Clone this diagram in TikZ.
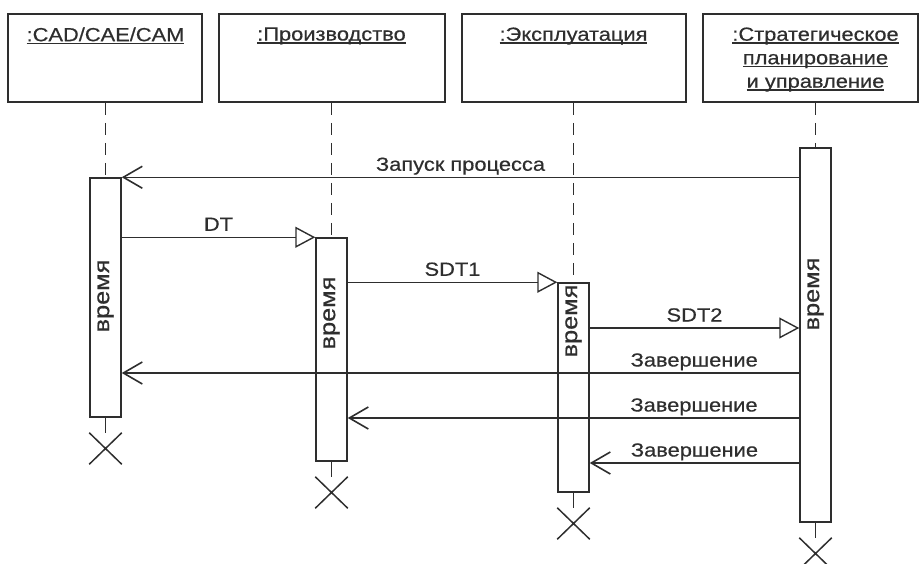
\documentclass[tikz,border=0pt]{standalone}
\usepackage{fontspec}
\setmainfont{Liberation Sans}[FakeStretch=1.15, FakeBold=0.5]
\usetikzlibrary{positioning,arrows.meta,shapes.misc}

\colorlet{ink}{black!82}
% underlined object name
\newcommand\objname[1]{\setbox0\hbox{#1}\rlap{\rule[-3pt]{\wd0}{1.3pt}}\box0}

\begin{document}
\begin{tikzpicture}[x=1pt, y=-1pt, color=ink,
    headbox/.style={draw, line width=1.5pt, minimum height=88pt, inner sep=0pt},
    headname/.style={anchor=north, align=center, inner sep=0pt, font=\fontsize{19}{23.5}\selectfont},
    actbox/.style={draw, fill=white, line width=1.5pt, minimum width=31pt, inner sep=0pt},
    timelbl/.style={rotate=90, inner sep=0pt, font=\fontsize{22}{26}\selectfont},
    lifeline/.style={line width=1.4pt, dash pattern=on 12pt off 8pt},
    stub/.style={line width=1.5pt},
    endmark/.style={cross out, draw, line width=1.5pt, minimum width=31pt, minimum height=30pt, inner sep=0pt},
    call/.style={line width=1.4pt, -{Triangle[open, length=20pt, width=21pt, line width=1.4pt]}},
    reply/.style={line width=1.4pt, -{Straight Barb[length=19pt, width=22pt, line width=1.6pt]}},
    msglbl/.style={anchor=base, inner sep=0pt, yshift=6.5pt, font=\fontsize{19}{23}\selectfont}]
    \useasboundingbox (0,0) rectangle (919,563);

    % objects
    \node [headbox, minimum width=194pt] (h1) at (105,58) {};
    \node [headbox, minimum width=226pt] (h2) at (332,58) {};
    \node [headbox, minimum width=224pt] (h3) at (574,58) {};
    \node [headbox, minimum width=215pt] (h4) at (810.5,58) {};

    % activations
    \node [actbox, minimum height=239pt] (a1) at (105.5,297.5) {};
    \node [actbox, minimum height=223pt] (a2) at (331.5,349.5) {};
    \node [actbox, minimum height=209pt] (a3) at (573.5,387.5) {};
    \node [actbox, minimum height=374pt] (a4) at (815.5,335) {};

    \node [headname, yshift=-14pt] (n1) at (a1 |- h1.north) {\objname{:CAD/CAE/CAM}};
    \node [headname, yshift=-14pt] (n2) at (a2 |- h2.north) {\objname{:Производство}};
    \node [headname, yshift=-14pt] (n3) at (a3 |- h3.north) {\objname{:Эксплуатация}};
    \node [headname, yshift=-14pt] (n4) at (a4 |- h4.north) {\objname{:Стратегическое}\\\objname{планирование}\\\objname{и управление}};

    \draw[lifeline] (a1 |- h1.south) -- (a1.north);
    \draw[lifeline] (a2 |- h2.south) -- (a2.north);
    \draw[lifeline] (a3 |- h3.south) -- (a3.north);
    \draw[lifeline] (a4 |- h4.south) -- (a4.north);

    \node [timelbl] (t1) at (a1 |- 0,296) {время};
    \node [timelbl] (t2) at (a2 |- 0,313) {время};
    \node [timelbl] (t3) at (a3 |- 0,321) {время};
    \node [timelbl] (t4) at (a4 |- 0,294) {время};

    % messages
    \draw[reply] (a4.west |- a1.north) -- node[msglbl] (m1) {Запуск процесса} (a1.north east);
    \draw[call] (a1.east |- a2.north) -- node[msglbl] (m2) {DT} (a2.north west);
    \draw[call] (a2.east |- a3.north) -- node[msglbl] (m3) {SDT1} (a3.north west);
    \draw[call] (a3.east |- 0,328) -- node[msglbl] (m4) {SDT2} (a4.west |- 0,328);
    \draw[reply] (a4.west |- 0,373) -- node[msglbl, pos=0.155] (m5) {Завершение} (a1.east |- 0,373);
    \draw[reply] (a4.west |- 0,418) -- node[msglbl, pos=0.233] (m6) {Завершение} (a2.east |- 0,418);
    \draw[reply] (a4.west |- 0,463) -- node[msglbl] (m7) {Завершение} (a3.east |- 0,463);

    % destruction
    \node [endmark, below=15pt of a1] (x1) {};
    \node [endmark, below=15pt of a2] (x2) {};
    \node [endmark, below=15pt of a3] (x3) {};
    \node [endmark, below=15pt of a4] (x4) {};
    \draw[stub] (a1.south) -- (x1.north);
    \draw[stub] (a2.south) -- (x2.north);
    \draw[stub] (a3.south) -- (x3.north);
    \draw[stub] (a4.south) -- (x4.north);
\end{tikzpicture}
\end{document}
